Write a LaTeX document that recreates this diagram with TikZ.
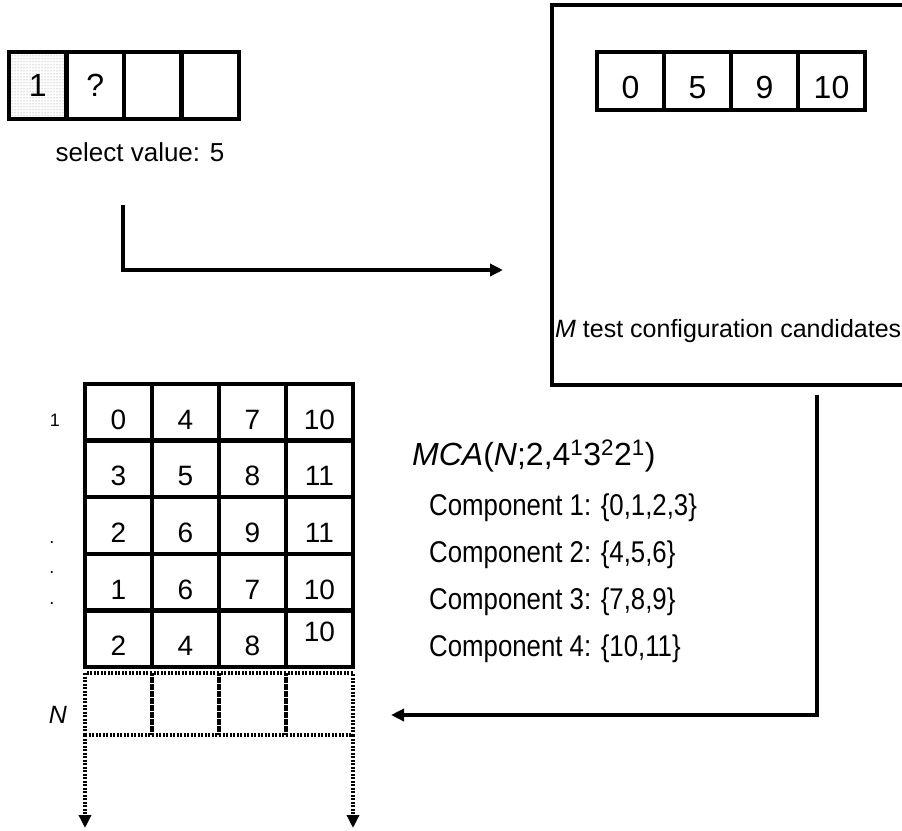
\documentclass[tikz,border=0pt]{standalone}
\usepackage{fontspec}
\setmainfont{Liberation Sans}
\newfontfamily\narrowfont[FakeStretch=0.86]{Liberation Sans}
\usetikzlibrary{arrows.meta,patterns}
\begin{document}
\begin{tikzpicture}[x=1pt,y=-1pt,
    >={Triangle[length=13pt,width=12pt]},
    cell/.style={draw,rectangle,line width=4.5pt,inner sep=0pt,outer sep=0pt},
    rowcell/.style={cell,minimum width=57.5pt,minimum height=67pt,font=\fontsize{32}{34}\selectfont},
    candcell/.style={cell,minimum width=67pt,minimum height=58pt,font=\fontsize{32}{34}\selectfont,text height=34pt,text depth=0pt},
    mcacell/.style={cell,minimum width=67pt,minimum height=56.6pt,font=\fontsize{28}{30}\selectfont,text height=34pt,text depth=0pt},
    raised/.style={text height=6pt},
    dotline/.style={line width=3.5pt,dash pattern=on 2pt off 1.5pt},
    emptycell/.style={draw,rectangle,dotline,inner sep=0pt,outer sep=0pt,minimum width=67pt,minimum height=62pt},
    arr/.style={->,line width=4pt},
    lbl/.style={inner sep=0pt}
  ]
  \useasboundingbox (0,0) rectangle (902,830);
  \clip (0,0) rectangle (902,830);

  % Row under construction
  % ----------------------
  \node[rowcell,pattern=dots,pattern color=gray] (sel-1) at (37.75,85.5) {1};
  \foreach \v [count=\c from 2] in {?,{},{}}
    \node[rowcell] (sel-\c) at ({9+57.5*(\c-0.5)},85.5) {\v};
  \node[lbl,anchor=base,font=\fontsize{26}{28}\selectfont] (selText) at (140,161) {select value: 5};

  % Candidates
  % ----------------------
  \node[cell,minimum width=368pt,minimum height=380pt,anchor=north west] (candBox) at (552,5) {};
  \foreach \v [count=\c] in {0,5,9,10}
    \node[candcell] (cand-\c) at ({597+67*(\c-0.5)},81) {\v};
  \node[lbl,anchor=base west,font=\fontsize{25}{27}\selectfont] (candText) at (555,337) {\textit{M} test configuration candidates};

  % Mixed covering array
  % ----------------------
  \foreach \row [count=\r] in {{0,4,7,10},{3,5,8,11},{2,6,9,11},{1,6,7,10},{2,4,8}}
    \foreach \v [count=\c] in \row
      \node[mcacell] (mca-\r-\c) at ({85+67*(\c-0.5)},{384+56.6*(\r-0.5)}) {\v};
  \node[mcacell,raised] (mca-5-4) at (319.5,638.7) {10};

  % empty row N
  \foreach \c in {1,...,4}
    \node[emptycell] (nrow-\c) at ({85+67*(\c-0.5)},704) {};

  % row labels
  \node[lbl,font=\fontsize{18}{20}\selectfont] (rowOne) at (55,420) {1};
  \foreach \y [count=\i] in {543,573,604}
    \node[lbl,font=\fontsize{18}{20}\selectfont] (rowDot-\i) at (52,\y) {.};
  \node[lbl,font=\fontsize{25}{27}\selectfont] (rowN) at (58,715) {\textit{N}};

  % Parameters
  \node[lbl,anchor=base west,font=\fontsize{32}{34}\selectfont] (mcaTitle) at (412,465)
    {\textit{MCA}(\textit{N};2,4\textsuperscript{1}3\textsuperscript{2}2\textsuperscript{1})};
  \foreach \t [count=\i] in {{0,1,2,3},{4,5,6},{7,8,9},{10,11}}
    \node[lbl,anchor=base west,font=\narrowfont\fontsize{30}{32}\selectfont] (comp-\i) at (429,{515+47.3*(\i-1)}) {Component \i: \{\t\}};

  % Connectors
  % ----------------------
  \coordinate (selOut) at (123,205);
  \coordinate (selIn) at (503,270);
  \draw[arr] (selOut) |- (selIn);

  \coordinate (candOut) at (817,395);
  \coordinate (nIn) at (391,715);
  \draw[arr] (candOut) |- (nIn);

  \coordinate (downL) at (85,828);
  \coordinate (downR) at (353,828);
  \draw[dotline,->] (nrow-1.south west) -- (downL);
  \draw[dotline,->] (nrow-4.south east) -- (downR);
\end{tikzpicture}
\end{document}
